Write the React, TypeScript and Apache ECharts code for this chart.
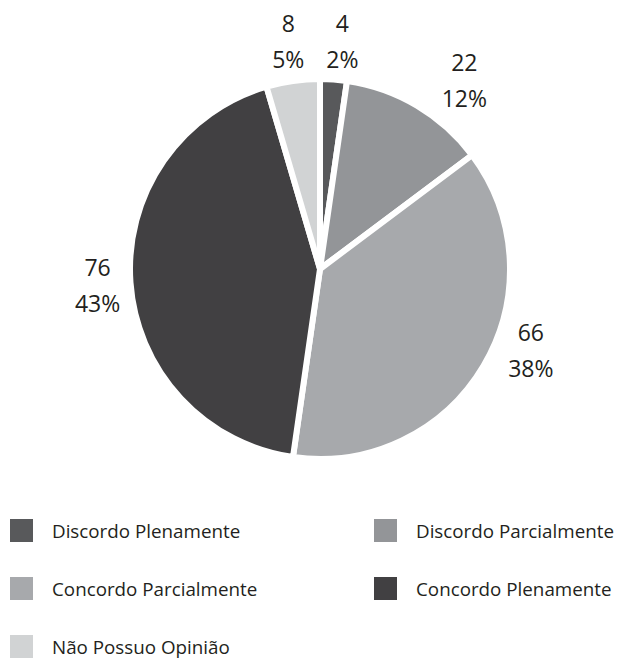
import React, { useEffect, useRef } from "react";
import * as echarts from "echarts";

const categories = [
  "Discordo Plenamente",
  "Discordo Parcialmente",
  "Concordo Parcialmente",
  "Concordo Plenamente",
  "Não Possuo Opinião",
];
const counts = [4, 22, 66, 76, 8];
const percentLabels = ["2%", "12%", "38%", "43%", "5%"];
const colors = ["#58595b", "#939598", "#a7a9ac", "#414042", "#d1d3d4"];

// small label nudges (style only) to mimic the original label placement
const labelNudgeX = [6, 27, 13, 7, 1];
const labelNudgeY = [1, 9, -36, 0, 0];

const FONT = "'Open Sans', 'Noto Sans', sans-serif";

export default function App() {
  const ref = useRef<HTMLDivElement>(null);
  useEffect(() => {
    if (!ref.current) return;
    const chart = echarts.init(ref.current, undefined, { renderer: "svg" });
    chart.setOption({
      animation: false,
      backgroundColor: "#ffffff",
      color: colors,
      legend: {
        left: 10,
        top: 519,
        width: 700,
        padding: 0,
        orient: "horizontal",
        icon: "rect",
        itemWidth: 23,
        itemHeight: 23,
        itemGap: 35,
        itemStyle: { borderWidth: 0 },
        textStyle: {
          fontFamily: FONT,
          fontSize: 18.8,
          color: "#231f20",
          width: 287,
          lineHeight: 23,
          padding: [0, 0, 0, 14],
        },
        data: categories,
      },
      series: [
        {
          type: "pie",
          center: [320, 269],
          radius: 190,
          startAngle: 90,
          clockwise: true,
          avoidLabelOverlap: false,
          itemStyle: { borderColor: "#ffffff", borderWidth: 6 },
          label: {
            show: true,
            position: "outside",
            fontFamily: FONT,
            fontSize: 23,
            lineHeight: 36,
            color: "#231f20",
            distanceToLabelLine: 0,
            formatter: (p: any) => `${p.value}\n${percentLabels[p.dataIndex]}`,
          },
          labelLine: { show: false, length: 40, length2: 0 },
          labelLayout: (params: any) => ({
            align: "center",
            dx: labelNudgeX[params.dataIndex],
            dy: labelNudgeY[params.dataIndex],
          }),
          data: categories.map((name, i) => ({ name, value: counts[i] })),
        },
      ],
    });
    return () => chart.dispose();
  }, []);
  return (
    <div
      ref={ref}
      style={{ position: "fixed", left: 0, top: 0, width: 623, height: 661 }}
    />
  );
}
